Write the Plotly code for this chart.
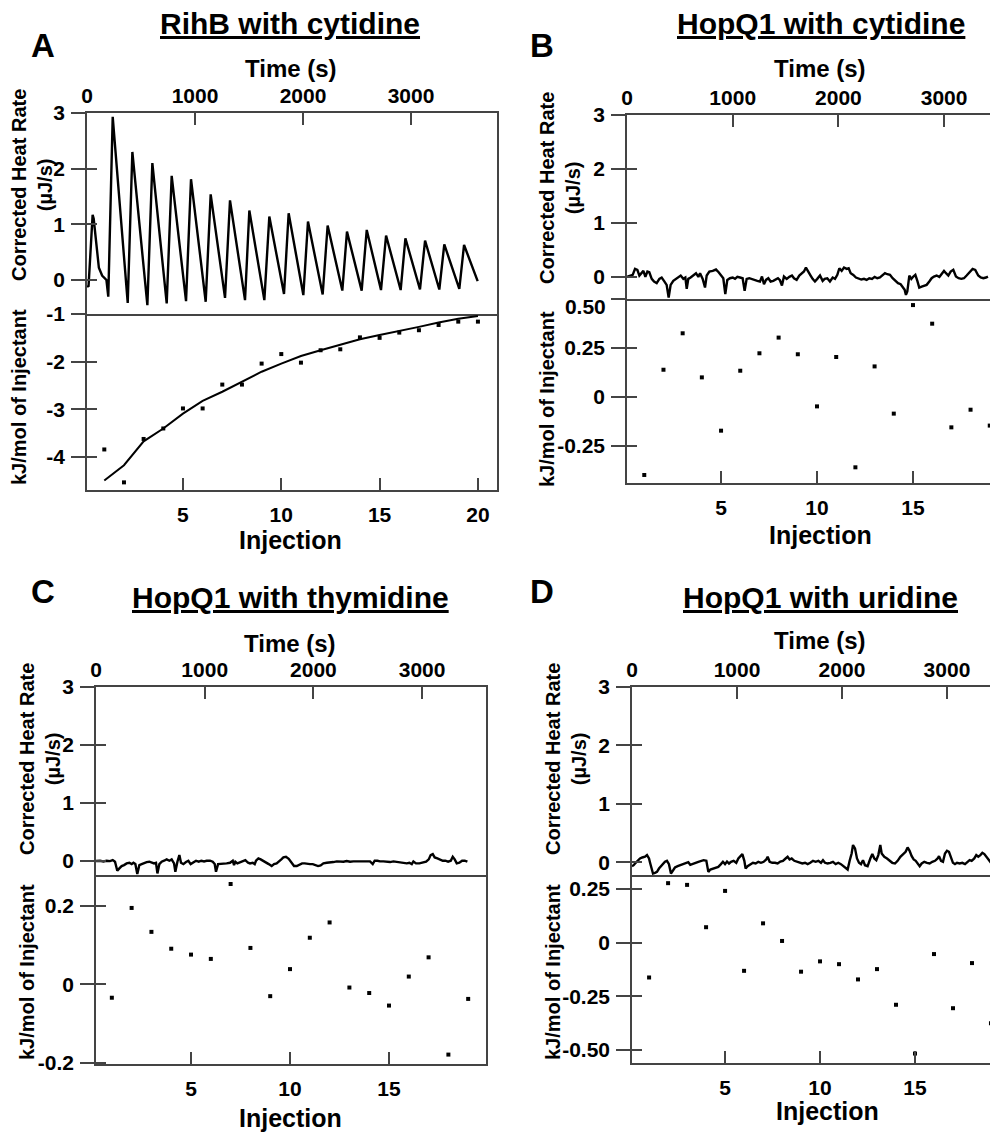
import plotly.graph_objects as go

# ---- panel A: RihB with cytidine ----
a_time = [0, 14, 52, 62, 110, 140, 180, 197,
          238, 377, 420, 559, 605, 738, 784, 917, 963, 1099, 1145, 1278,
          1324, 1463, 1503, 1642, 1688, 1824, 1867, 2003, 2046, 2182,
          2228, 2364, 2407, 2543, 2590, 2722, 2769, 2904, 2948, 3083,
          3130, 3262, 3308, 3447, 3491, 3617]
a_heat = [-0.10, -0.12, 1.17, 1.10, 0.22, 0.08, 0.00, -0.30,
          2.93, -0.41, 2.30, -0.45, 2.10, -0.42, 1.87, -0.38, 1.81, -0.39, 1.54, -0.32,
          1.43, -0.36, 1.25, -0.36, 1.14, -0.25, 1.20, -0.27, 1.05, -0.26,
          0.98, -0.19, 0.87, -0.19, 0.90, -0.18, 0.80, -0.18, 0.75, -0.17,
          0.71, -0.17, 0.64, -0.16, 0.63, -0.02]
a_inj = list(range(1, 21))
a_kj = [-3.84, -4.53, -3.62, -3.40, -2.98, -2.98, -2.48, -2.48, -2.04, -1.84,
        -2.02, -1.76, -1.74, -1.49, -1.50, -1.39, -1.34, -1.23, -1.16, -1.16]
a_fit = [-4.49, -4.17, -3.67, -3.40, -3.09, -2.82, -2.63, -2.42, -2.21, -2.04,
         -1.88, -1.76, -1.65, -1.53, -1.44, -1.36, -1.27, -1.18, -1.10, -1.04]

# ---- panel B: HopQ1 with cytidine ----
b_time = [3, 29, 54, 76, 98, 117, 139, 155, 174, 193,
          211, 234, 256, 281, 306, 328, 350, 375, 394, 413,
          438, 464, 486, 508, 533, 552, 565, 580, 602, 628,
          653, 675, 691, 716, 738, 754, 779, 811, 842, 867,
          889, 911, 930, 949, 974, 1000, 1022, 1044, 1069, 1094,
          1113, 1132, 1157, 1183, 1208, 1233, 1258, 1277, 1296, 1315,
          1337, 1359, 1384, 1410, 1428, 1447, 1466, 1485, 1511, 1536,
          1561, 1580, 1605, 1630, 1652, 1674, 1693, 1715, 1737, 1756,
          1778, 1800, 1826, 1851, 1870, 1895, 1920, 1946, 1968, 1990,
          2009, 2031, 2053, 2078, 2097, 2116, 2141, 2166, 2192, 2217,
          2242, 2267, 2292, 2318, 2343, 2368, 2393, 2419, 2441, 2463,
          2488, 2513, 2538, 2564, 2589, 2608, 2627, 2639, 2652, 2671,
          2690, 2709, 2728, 2747, 2765, 2788, 2810, 2835, 2860, 2882,
          2904, 2929, 2955, 2977, 2999, 3018, 3040, 3062, 3087, 3112,
          3137, 3163, 3188, 3213, 3245, 3270, 3295, 3323, 3346, 3371,
          3396, 3415]
b_heat = [0.006, 0.025, 0.037, 0.148, 0.130, 0.025, 0.068, 0.111, 0.000, 0.099,
          0.086, -0.037, -0.086, -0.117, -0.037, -0.012, -0.074, -0.148, -0.383, -0.148,
          -0.074, -0.037, 0.006, 0.025, -0.037, -0.012, -0.222, -0.037, -0.012, 0.025,
          0.068, 0.000, 0.068, -0.037, -0.198, 0.025, 0.099, 0.111, 0.136, 0.086,
          0.025, -0.025, -0.321, -0.056, -0.025, -0.012, -0.037, 0.000, -0.012, -0.025,
          -0.259, -0.037, -0.025, -0.037, -0.056, -0.074, -0.086, 0.006, -0.136, -0.056,
          -0.025, -0.086, -0.074, -0.049, -0.025, -0.062, -0.160, 0.006, -0.037, 0.000,
          0.025, -0.025, -0.056, 0.025, 0.068, 0.099, 0.173, 0.086, 0.025, -0.037,
          -0.086, -0.037, 0.025, -0.074, -0.037, -0.025, -0.086, -0.012, -0.037, 0.037,
          0.160, 0.111, 0.173, 0.148, 0.160, 0.068, 0.037, -0.012, -0.037, -0.049,
          -0.037, -0.056, -0.025, -0.037, 0.000, -0.025, -0.012, 0.025, 0.068, 0.049,
          0.037, -0.025, -0.074, -0.117, -0.136, -0.185, -0.241, -0.333, -0.272, 0.025,
          -0.037, 0.006, 0.037, -0.074, -0.198, -0.179, -0.160, -0.148, -0.086, -0.025,
          0.006, 0.025, 0.000, 0.049, 0.111, 0.068, 0.025, 0.099, 0.130, 0.006,
          -0.025, -0.037, -0.025, 0.025, 0.099, 0.148, 0.130, 0.025, -0.012, -0.025,
          -0.012, 0.006]
b_inj = list(range(1, 20))
b_kj = [-0.398, 0.139, 0.325, 0.100, -0.172, 0.134, 0.223, 0.303, 0.218, -0.048,
        0.204, -0.359, 0.156, -0.085, 0.469, 0.374, -0.155, -0.065, -0.146]

# ---- panel C: HopQ1 with thymidine ----
c_time = [0, 37, 68, 98, 129, 154, 175, 196, 215, 236,
          258, 282, 307, 328, 344, 362, 380, 399, 420, 442,
          466, 491, 515, 534, 552, 565, 583, 604, 626, 650,
          675, 696, 718, 730, 749, 767, 782, 804, 828, 850,
          871, 896, 920, 945, 969, 994, 1018, 1049, 1074, 1092,
          1104, 1123, 1147, 1172, 1202, 1233, 1258, 1270, 1282, 1301,
          1325, 1350, 1374, 1399, 1417, 1442, 1460, 1472, 1494, 1515,
          1540, 1564, 1589, 1616, 1638, 1662, 1687, 1705, 1724, 1748,
          1773, 1797, 1822, 1847, 1871, 1896, 1920, 1945, 1969, 1994,
          2018, 2043, 2067, 2092, 2123, 2153, 2184, 2215, 2245, 2276,
          2307, 2337, 2368, 2399, 2429, 2460, 2491, 2521, 2546, 2564,
          2589, 2613, 2644, 2675, 2705, 2736, 2767, 2797, 2828, 2859,
          2883, 2905, 2920, 2944, 2975, 3006, 3037, 3061, 3079, 3098,
          3116, 3141, 3165, 3190, 3214, 3239, 3264, 3282, 3300, 3319,
          3343, 3368, 3392, 3417]
c_heat = [0.000, 0.006, -0.006, 0.006, 0.000, 0.017, -0.011, -0.167, -0.126, -0.086,
          -0.069, -0.040, -0.029, -0.052, -0.029, -0.052, -0.224, -0.069, -0.052, -0.029,
          -0.017, -0.011, -0.029, -0.040, -0.029, -0.213, -0.052, -0.011, 0.006, 0.029,
          0.006, 0.029, -0.040, -0.184, -0.011, 0.103, -0.029, -0.052, -0.017, 0.006,
          -0.052, -0.029, 0.006, -0.011, 0.006, -0.006, 0.006, 0.006, -0.011, -0.052,
          -0.184, -0.052, -0.052, -0.040, -0.040, -0.029, 0.006, -0.069, -0.011, -0.040,
          -0.017, -0.006, 0.017, -0.029, -0.040, -0.029, -0.052, 0.006, 0.046, 0.029,
          0.006, -0.029, -0.052, -0.086, -0.052, -0.040, -0.006, 0.029, 0.063, 0.075,
          0.040, -0.017, -0.086, -0.086, -0.063, -0.040, -0.040, -0.052, -0.052, -0.052,
          -0.069, -0.086, -0.075, -0.040, -0.029, -0.017, -0.017, -0.006, -0.011, -0.011,
          0.000, -0.011, -0.006, -0.006, 0.000, -0.006, -0.006, -0.006, -0.052, 0.006,
          0.006, -0.006, -0.006, -0.011, -0.017, -0.006, -0.017, -0.029, -0.029, -0.040,
          -0.029, -0.052, -0.006, -0.040, -0.040, -0.029, -0.011, 0.029, 0.103, 0.121,
          0.063, 0.046, 0.029, 0.006, 0.006, -0.011, 0.006, 0.075, 0.029, -0.040,
          -0.029, 0.006, 0.006, -0.011]
c_inj = list(range(1, 20))
c_kj = [-0.034, 0.195, 0.134, 0.091, 0.076, 0.065, 0.256, 0.093, -0.030, 0.039,
        0.119, 0.158, -0.008, -0.022, -0.054, 0.020, 0.069, -0.179, -0.037]

# ---- panel D: HopQ1 with uridine ----
d_time = [0, 16, 35, 54, 76, 98, 124, 143, 162, 174,
          187, 200, 219, 238, 257, 276, 295, 314, 333, 352,
          371, 390, 409, 435, 460, 485, 511, 536, 555, 581,
          606, 632, 657, 682, 708, 727, 746, 771, 797, 822,
          847, 866, 886, 905, 924, 943, 968, 993, 1013, 1032,
          1051, 1070, 1082, 1101, 1127, 1152, 1178, 1203, 1228, 1254,
          1279, 1292, 1311, 1336, 1362, 1387, 1413, 1438, 1463, 1482,
          1501, 1521, 1546, 1571, 1597, 1622, 1648, 1673, 1698, 1724,
          1749, 1775, 1800, 1819, 1838, 1863, 1889, 1914, 1940, 1965,
          1990, 2016, 2035, 2054, 2073, 2092, 2105, 2124, 2143, 2162,
          2181, 2200, 2219, 2244, 2270, 2289, 2308, 2327, 2346, 2365,
          2378, 2403, 2429, 2454, 2479, 2505, 2530, 2556, 2581, 2606,
          2625, 2644, 2664, 2683, 2702, 2721, 2740, 2759, 2784, 2810,
          2835, 2860, 2886, 2911, 2924, 2943, 2962, 2981, 3000, 3019,
          3038, 3057, 3076, 3095, 3121, 3146, 3172, 3197, 3216, 3235,
          3260, 3279, 3298, 3318, 3337, 3356, 3381, 3400, 3419]
d_heat = [-0.069, -0.052, -0.011, 0.023, 0.063, 0.080, 0.092, 0.121, 0.063, -0.023,
          -0.109, -0.195, -0.184, -0.167, -0.109, -0.069, -0.023, 0.006, 0.023, -0.034,
          -0.195, -0.138, -0.092, -0.069, -0.052, -0.034, -0.023, 0.000, -0.046, -0.023,
          -0.011, 0.006, 0.023, 0.034, 0.023, -0.167, -0.126, -0.109, -0.092, -0.080,
          -0.034, 0.006, -0.034, 0.011, -0.023, 0.006, 0.023, -0.011, 0.063, 0.092,
          0.138, 0.023, -0.109, -0.069, -0.034, -0.011, -0.023, 0.006, -0.011, 0.006,
          0.046, 0.092, 0.006, -0.011, -0.011, -0.023, 0.011, 0.023, 0.063, 0.092,
          0.046, 0.063, 0.023, 0.006, -0.011, -0.023, -0.011, -0.034, -0.011, 0.023,
          0.006, 0.023, -0.011, 0.034, -0.011, -0.023, -0.011, 0.006, -0.034, -0.011,
          -0.034, -0.069, -0.109, -0.126, 0.023, 0.149, 0.293, 0.236, 0.063, -0.011,
          -0.034, 0.034, -0.052, -0.069, 0.063, 0.138, 0.063, 0.034, 0.121, 0.293,
          0.149, 0.092, 0.063, 0.023, -0.011, -0.023, 0.023, 0.092, 0.138, 0.178,
          0.253, 0.195, 0.103, 0.046, 0.023, -0.034, -0.069, -0.023, 0.006, -0.011,
          -0.023, 0.006, 0.023, 0.063, 0.103, 0.023, 0.006, 0.149, 0.195, 0.178,
          0.063, -0.011, -0.034, -0.011, -0.023, -0.011, -0.034, 0.006, 0.034, 0.023,
          0.063, 0.121, 0.092, 0.121, 0.161, 0.138, 0.080, 0.034, -0.011]
d_inj = list(range(1, 20))
d_kj = [-0.162, 0.277, 0.269, 0.072, 0.241, -0.131, 0.090, 0.008, -0.135, -0.087,
        -0.100, -0.171, -0.123, -0.289, -0.516, -0.053, -0.305, -0.095, -0.375]

time_ticks = [0, 1000, 2000, 3000]
heat_ticks = [0, 1, 2, 3]

FONT = "Liberation Sans, Arial, sans-serif"
AXC = "#444444"
# the page body has an 8px margin, so the figure is drawn 8px smaller and
# every layout position below (in reference-image pixels) is shifted by it
OFF = 8
W, H = 998 - OFF, 1132 - OFF


def fx(p):
    return (p - OFF) / W


def fy(p):
    return 1 - (p - OFF) / H


panels = [
    dict(letter="A", title="RihB with cytidine", time=a_time, heat=a_heat, inj=a_inj, kj=a_kj, fit=a_fit,
         x0=87, x1=497, top=113, mid=314, bot=490, frame=True,
         trange=[0, 3796], hrange=[-0.61, 3], irange=[0.12, 20.97], krange=[-4.69, -1],
         itick=[5, 10, 15, 20], ktick=[-1, -2, -3, -4], ktext=["-1", "-2", "-3", "-4"], top_label=None,
         letter_xy=(43, 45), title_xy=(290, 24), time_xy=(291, 68), inj_xy=(290, 540),
         yt_xy=(32, 185), yb_xy=(19, 397)),
    dict(letter="B", title="HopQ1 with cytidine", time=b_time, heat=b_heat, inj=b_inj, kj=b_kj, fit=None,
         x0=627, x1=998, top=115, mid=299, bot=483, frame=False,
         trange=[0, 3510], hrange=[-0.41, 3], irange=[0.1, 19.43], krange=[-0.439, 0.5],
         itick=[5, 10, 15], ktick=[0.5, 0.25, 0, -0.25], ktext=["", "0.25", "0", "-0.25"],
         top_label=(0.5, "0.50"),
         letter_xy=(542, 45), title_xy=(821, 24), time_xy=(820, 68), inj_xy=(820, 535),
         yt_xy=(560, 188), yb_xy=(547, 399)),
    dict(letter="C", title="HopQ1 with thymidine", time=c_time, heat=c_heat, inj=c_inj, kj=c_kj, fit=None,
         x0=96, x1=486, top=687, mid=875, bot=1064, frame=True,
         trange=[0, 3588], hrange=[-0.24, 3], irange=[0.2, 19.9], krange=[-0.203, 0.279],
         itick=[5, 10, 15], ktick=[0.2, 0, -0.2], ktext=["0.2", "0", "-0.2"], top_label=None,
         letter_xy=(43, 591), title_xy=(290, 597), time_xy=(290, 643), inj_xy=(290, 1118),
         yt_xy=(40, 759), yb_xy=(27, 972)),
    dict(letter="D", title="HopQ1 with uridine", time=d_time, heat=d_heat, inj=d_inj, kj=d_kj, fit=None,
         x0=632, x1=998, top=687, mid=875, bot=1063, frame=False,
         trange=[0, 3486], hrange=[-0.22, 3], irange=[0.1, 19.37], krange=[-0.56, 0.315],
         itick=[5, 10, 15], ktick=[0.25, 0, -0.25, -0.5], ktext=["0.25", "0", "-0.25", "-0.50"],
         top_label=None,
         letter_xy=(542, 591), title_xy=(820, 597), time_xy=(820, 640), inj_xy=(827, 1111),
         yt_xy=(566, 759), yb_xy=(553, 972)),
]

tickfont = dict(family=FONT, size=21, color="black", weight="bold")
fig = go.Figure()
layout = {}
annotations = []


def base_axis(**kw):
    d = dict(showline=True, linecolor=AXC, linewidth=1.5, showgrid=False, zeroline=False,
             tickcolor=AXC, tickwidth=1.5, tickfont=tickfont, fixedrange=True, automargin=False)
    d.update(kw)
    return d


def ann(text, xy, size, **kw):
    d = dict(text=text, x=fx(xy[0]), y=fy(xy[1]), xref="paper", yref="paper",
             xanchor="center", yanchor="middle", showarrow=False,
             font=dict(family=FONT, size=size, color="black", weight="bold"))
    d["font"].update(kw.pop("font", {}))
    d.update(kw)
    return d


extra_y = 17
for i, p in enumerate(panels):
    xt, xb = 2 * i + 1, 2 * i + 2
    yt, yto, yb, ybo = 4 * i + 1, 4 * i + 2, 4 * i + 3, 4 * i + 4
    xdom = [fx(p["x0"]), min(fx(p["x1"]), 1.0)]

    # upper panel: thermogram vs time
    layout[f"xaxis{xt}"] = base_axis(domain=xdom, anchor=f"y{yt}", side="top", range=p["trange"],
                                     tickvals=time_ticks, ticks="inside", ticklen=12, mirror=True,
                                     ticklabelstandoff=0)
    layout[f"yaxis{yt}"] = base_axis(domain=[fy(p["mid"]), fy(p["top"])], anchor=f"x{xt}",
                                     range=p["hrange"], tickvals=heat_ticks, ticks="outside",
                                     ticklen=14, mirror=p["frame"], ticklabelstandoff=2)
    layout[f"yaxis{yto}"] = base_axis(anchor=f"x{xt}", overlaying=f"y{yt}", range=p["hrange"],
                                      tickvals=heat_ticks, ticks="inside", ticklen=10,
                                      showticklabels=False, showline=False)
    fig.add_trace(go.Scatter(x=p["time"], y=p["heat"], mode="lines",
                             line=dict(color="black", width=2.4),
                             xaxis=f"x{xt}", yaxis=f"y{yt}", showlegend=False))
    fig.add_trace(go.Scatter(x=[None], y=[None], xaxis=f"x{xt}", yaxis=f"y{yto}", showlegend=False))

    # lower panel: integrated heats vs injection
    layout[f"xaxis{xb}"] = base_axis(domain=xdom, anchor=f"y{yb}", side="bottom", range=p["irange"],
                                     tickvals=p["itick"], ticks="inside", ticklen=12, mirror=False,
                                     ticklabelstandoff=5)
    layout[f"yaxis{yb}"] = base_axis(domain=[fy(p["bot"]), fy(p["mid"])], anchor=f"x{xb}",
                                     range=p["krange"], tickvals=p["ktick"], ticktext=p["ktext"],
                                     ticks="outside", ticklen=14, mirror=p["frame"], ticklabelstandoff=2)
    layout[f"yaxis{ybo}"] = base_axis(anchor=f"x{xb}", overlaying=f"y{yb}", range=p["krange"],
                                      tickvals=p["ktick"], ticks="inside", ticklen=10,
                                      showticklabels=False, showline=False)
    if p["top_label"] is not None:
        # the top tick label sits just below the divider in the original
        layout[f"yaxis{extra_y}"] = base_axis(anchor=f"x{xb}", overlaying=f"y{yb}", range=p["krange"],
                                              tickvals=[p["top_label"][0]], ticktext=[p["top_label"][1]],
                                              ticks="outside", ticklen=14, tickcolor="rgba(0,0,0,0)",
                                              showline=False, ticklabelstandoff=2, ticklabelshift=8)
        fig.add_trace(go.Scatter(x=[None], y=[None], xaxis=f"x{xb}", yaxis=f"y{extra_y}",
                                 showlegend=False))
        extra_y += 1
    if p["fit"] is not None:
        fig.add_trace(go.Scatter(x=p["inj"], y=p["fit"], mode="lines",
                                 line=dict(color="black", width=2),
                                 xaxis=f"x{xb}", yaxis=f"y{yb}", showlegend=False))
    fig.add_trace(go.Scatter(x=p["inj"], y=p["kj"], mode="markers",
                             marker=dict(symbol="square", size=4, color="black"),
                             xaxis=f"x{xb}", yaxis=f"y{yb}", showlegend=False))
    fig.add_trace(go.Scatter(x=[None], y=[None], xaxis=f"x{xb}", yaxis=f"y{ybo}", showlegend=False))

    annotations += [
        ann(p["letter"], p["letter_xy"], 33),
        ann(p["title"], p["title_xy"], 30, font=dict(lineposition="under")),
        ann("Time (s)", p["time_xy"], 24),
        ann("Injection", p["inj_xy"], 25),
        ann("Corrected Heat Rate<br>(µJ/s)", p["yt_xy"], 20, textangle=-90),
        ann("kJ/mol of Injectant", p["yb_xy"], 20, textangle=-90),
    ]

fig.update_layout(**layout)
fig.update_layout(
    width=W, height=H,
    margin=dict(l=0, r=0, t=0, b=0),
    paper_bgcolor="white", plot_bgcolor="white",
    showlegend=False,
    annotations=annotations,
)

fig.write_html("out.html")
